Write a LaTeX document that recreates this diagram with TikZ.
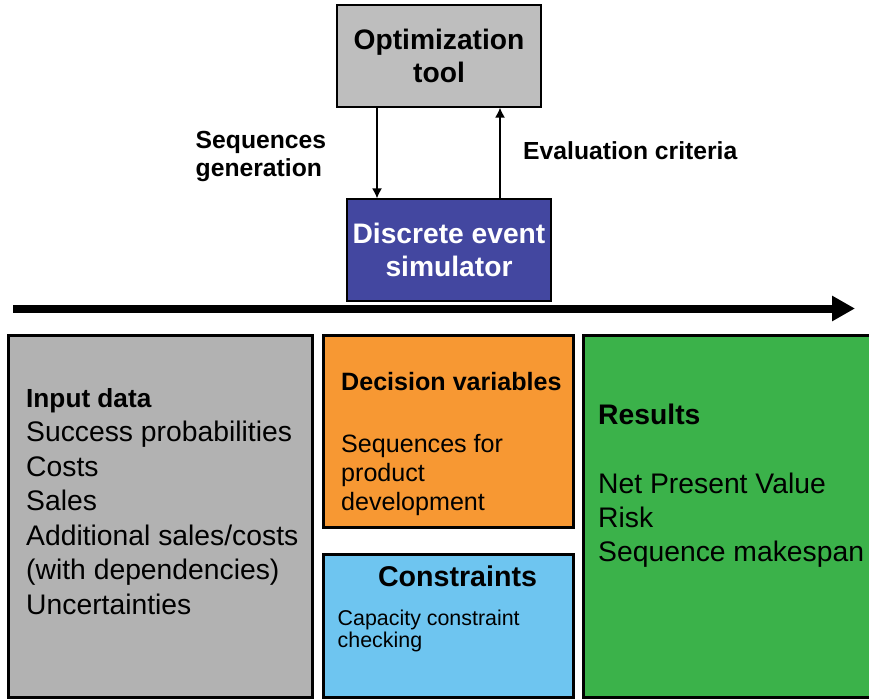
\documentclass[tikz,border=0pt]{standalone}
\usepackage{fontspec}
\setmainfont{Liberation Sans}
\usetikzlibrary{arrows.meta}

\definecolor{optgray} {RGB}{190,190,190}
\definecolor{inpgray} {RGB}{178,178,178}
\definecolor{desblue} {RGB}{67,71,160}
\definecolor{decorange}{RGB}{247,152,51}
\definecolor{conblue} {RGB}{110,197,240}
\definecolor{resgreen}{RGB}{59,178,74}

\begin{document}
\begin{tikzpicture}[x=1pt,y=-1pt,
    topbox/.style={draw=black,line width=1.2pt,inner sep=0pt,minimum width=204pt,minimum height=102pt,
                   align=center,font=\fontsize{28.2}{33.5}\selectfont\bfseries},
    box/.style={draw=black,line width=3pt,inner sep=0pt},
    boxtext/.style={anchor=north west,align=left,inner sep=0pt},
    flow/.style={-{Latex[length=10pt,width=10pt]},line width=1.5pt}]

    \useasboundingbox (0,0) rectangle (869,699);
    \clip (0,0) rectangle (869,699);

    \node[topbox,fill=optgray] (opt) at (439,56) {Optimization\\tool};
    \node[topbox,fill=desblue,text=white] (des) at (449,250) {Discrete event\\simulator};

    \node[boxtext,font=\fontsize{24.7}{28}\selectfont\bfseries] (seqlbl) at (195.5,131) {Sequences\\generation};
    \node[anchor=base west,inner sep=0pt,font=\fontsize{24.7}{28}\selectfont\bfseries] (evallbl) at (523,159) {Evaluation criteria};

    \draw[flow] ([xshift=-62pt]opt.south) -- ([xshift=-62pt]opt.south |- des.north);
    \draw[flow] ([xshift=61pt]opt.south |- des.north) -- ([xshift=61pt]opt.south);

    % time axis
    \coordinate (tstart) at (13,308.5);
    \coordinate (tend) at (855,308.5);
    \draw[line width=8pt,-{Triangle[length=23pt,width=24pt]}] (tstart) -- (tend);

    \node[box,fill=inpgray,minimum width=304pt,minimum height=362pt] (inp) at (160,516) {};
    \node[box,fill=decorange,minimum width=250pt,minimum height=192pt] (dec) at (448,431) {};
    \node[box,fill=conblue,minimum width=250pt,minimum height=143pt] (con) at (448,625.5) {};
    \node[box,fill=resgreen,minimum width=297pt,minimum height=362pt] (res) at (731.5,516) {};

    \node[boxtext,font=\fontsize{28.3}{34.5}\selectfont] (inptxt) at (26,388)
        {{\fontsize{26.2}{34.5}\selectfont\bfseries Input data}\\Success probabilities\\Costs\\Sales\\Additional sales/costs\\(with dependencies)\\Uncertainties};
    \node[boxtext,font=\fontsize{25.1}{29}\selectfont] (dectxt) at (341,372)
        {\textbf{Decision variables}\\[33pt]Sequences for\\product\\development};
    \node[anchor=north,inner sep=0pt,font=\fontsize{28.6}{34}\selectfont\bfseries] (contitle) at (457.5,566) {Constraints};
    \node[boxtext,font=\fontsize{21.4}{22}\selectfont] (contxt) at (337.5,609.5) {Capacity constraint\\checking};
    \node[boxtext,font=\fontsize{28.3}{34}\selectfont] (restxt) at (598,404)
        {\textbf{Results}\\[35pt]Net Present Value\\Risk\\Sequence makespan};

\end{tikzpicture}
\end{document}
